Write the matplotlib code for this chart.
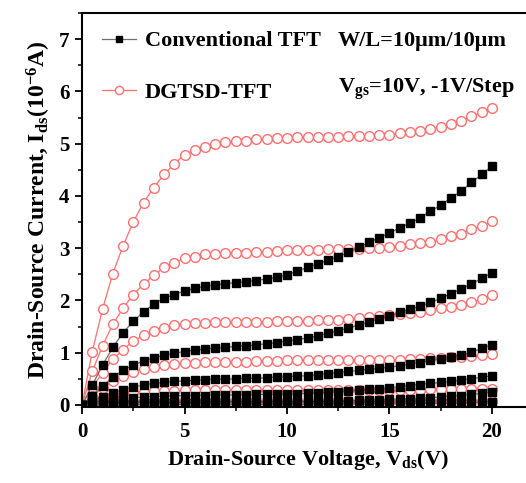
import matplotlib
matplotlib.use("Agg")
import matplotlib.pyplot as plt
from matplotlib.ticker import MultipleLocator

plt.rcParams['font.family'] = ['Liberation Serif', 'DejaVu Serif']
plt.rcParams['font.weight'] = 'bold'
plt.rcParams['mathtext.fontset'] = 'custom'
plt.rcParams['mathtext.rm'] = 'Liberation Serif:bold'
plt.rcParams['mathtext.it'] = 'Liberation Serif:bold:italic'
plt.rcParams['mathtext.bf'] = 'Liberation Serif:bold'

vds = [0, 0.5, 1, 1.5, 2, 2.5, 3, 3.5, 4, 4.5, 5, 5.5, 6, 6.5, 7, 7.5, 8, 8.5, 9, 9.5,
       10, 10.5, 11, 11.5, 12, 12.5, 13, 13.5, 14, 14.5, 15, 15.5, 16, 16.5, 17, 17.5,
       18, 18.5, 19, 19.5, 20]

# Conventional TFT, Vgs = 10 V ... 5 V
conv_10 = [0, 0.38, 0.76, 1.10, 1.38, 1.60, 1.78, 1.93, 2.04, 2.11, 2.18, 2.23, 2.27, 2.30, 2.32,
           2.34, 2.36, 2.38, 2.41, 2.44, 2.49, 2.56, 2.63, 2.70, 2.77, 2.84, 2.92, 3.02, 3.11,
           3.20, 3.29, 3.39, 3.48, 3.58, 3.71, 3.82, 3.96, 4.09, 4.26, 4.41, 4.57]
conv_9 = [0, 0.18, 0.36, 0.53, 0.66, 0.76, 0.84, 0.90, 0.95, 0.99, 1.02, 1.05, 1.07, 1.09, 1.10,
          1.12, 1.13, 1.15, 1.17, 1.19, 1.22, 1.25, 1.28, 1.32, 1.37, 1.42, 1.47, 1.53, 1.59,
          1.65, 1.71, 1.77, 1.83, 1.89, 1.96, 2.04, 2.13, 2.22, 2.32, 2.42, 2.53]
conv_8 = [0, 0.08, 0.16, 0.23, 0.29, 0.34, 0.38, 0.41, 0.43, 0.45, 0.46, 0.47, 0.48, 0.49, 0.49,
          0.50, 0.51, 0.51, 0.52, 0.53, 0.54, 0.55, 0.56, 0.58, 0.60, 0.62, 0.64, 0.66, 0.68,
          0.70, 0.72, 0.75, 0.78, 0.81, 0.85, 0.88, 0.92, 0.96, 1.01, 1.08, 1.15]
conv_7 = [0, 0.04, 0.07, 0.10, 0.12, 0.14, 0.15, 0.16, 0.17, 0.17, 0.18, 0.18, 0.18, 0.19, 0.19,
          0.19, 0.19, 0.20, 0.20, 0.20, 0.20, 0.21, 0.22, 0.23, 0.24, 0.25, 0.27, 0.28, 0.30,
          0.31, 0.33, 0.35, 0.37, 0.39, 0.41, 0.43, 0.45, 0.47, 0.50, 0.53, 0.56]
conv_6 = [0, 0.01, 0.02, 0.03, 0.04, 0.04, 0.05, 0.05, 0.05, 0.05, 0.05, 0.05, 0.05, 0.06, 0.06,
          0.06, 0.06, 0.06, 0.06, 0.06, 0.06, 0.06, 0.07, 0.07, 0.07, 0.08, 0.08, 0.09, 0.09,
          0.10, 0.11, 0.11, 0.12, 0.13, 0.14, 0.15, 0.17, 0.18, 0.20, 0.22, 0.24]
conv_5 = [0, 0.00, 0.01, 0.01, 0.01, 0.01, 0.01, 0.01, 0.01, 0.01, 0.01, 0.01, 0.01, 0.01, 0.01,
          0.01, 0.01, 0.01, 0.01, 0.01, 0.01, 0.01, 0.01, 0.01, 0.01, 0.02, 0.02, 0.02, 0.02,
          0.02, 0.02, 0.02, 0.03, 0.03, 0.03, 0.03, 0.04, 0.04, 0.05, 0.05, 0.06]

# DGTSD-TFT, Vgs = 10 V ... 5 V
dg_10 = [0, 1.02, 1.83, 2.51, 3.04, 3.50, 3.87, 4.16, 4.41, 4.61, 4.79, 4.87, 4.94, 4.99, 5.03,
         5.05, 5.06, 5.08, 5.09, 5.10, 5.11, 5.12, 5.12, 5.13, 5.13, 5.13, 5.14, 5.14, 5.15,
         5.16, 5.17, 5.20, 5.22, 5.25, 5.28, 5.32, 5.37, 5.44, 5.52, 5.60, 5.68]
dg_9 = [0, 0.64, 1.13, 1.54, 1.85, 2.11, 2.31, 2.48, 2.63, 2.72, 2.81, 2.84, 2.88, 2.89, 2.90,
        2.91, 2.91, 2.92, 2.93, 2.94, 2.96, 2.96, 2.97, 2.97, 2.98, 2.98, 2.99, 2.99, 3.00,
        3.01, 3.03, 3.05, 3.07, 3.09, 3.11, 3.17, 3.23, 3.28, 3.36, 3.42, 3.51]
dg_8 = [0, 0.33, 0.62, 0.87, 1.06, 1.22, 1.33, 1.42, 1.48, 1.52, 1.55, 1.56, 1.57, 1.58, 1.58,
        1.58, 1.59, 1.59, 1.59, 1.60, 1.60, 1.61, 1.61, 1.62, 1.62, 1.63, 1.64, 1.66, 1.68,
        1.70, 1.72, 1.74, 1.76, 1.78, 1.81, 1.85, 1.88, 1.92, 1.96, 2.02, 2.11]
dg_7 = [0, 0.17, 0.32, 0.45, 0.55, 0.63, 0.69, 0.73, 0.76, 0.78, 0.80, 0.81, 0.82, 0.82, 0.83,
        0.83, 0.83, 0.84, 0.84, 0.84, 0.85, 0.85, 0.85, 0.85, 0.85, 0.85, 0.85, 0.86, 0.86,
        0.86, 0.86, 0.86, 0.87, 0.88, 0.89, 0.90, 0.91, 0.92, 0.93, 0.95, 0.97]
dg_6 = [0, 0.07, 0.13, 0.18, 0.21, 0.24, 0.25, 0.26, 0.27, 0.27, 0.28, 0.28, 0.28, 0.28, 0.28,
        0.28, 0.28, 0.28, 0.29, 0.29, 0.29, 0.29, 0.29, 0.29, 0.29, 0.29, 0.29, 0.29, 0.29,
        0.29, 0.29, 0.29, 0.29, 0.29, 0.30, 0.30, 0.30, 0.30, 0.30, 0.31, 0.31]
dg_5 = [0, 0.02, 0.04, 0.05, 0.06, 0.06, 0.07, 0.07, 0.07, 0.07, 0.07, 0.07, 0.07, 0.07, 0.07,
        0.07, 0.07, 0.07, 0.07, 0.07, 0.07, 0.07, 0.07, 0.07, 0.07, 0.07, 0.07, 0.07, 0.07,
        0.07, 0.07, 0.07, 0.07, 0.07, 0.07, 0.07, 0.07, 0.08, 0.08, 0.08, 0.08]

conv_series = [conv_10, conv_9, conv_8, conv_7, conv_6, conv_5]
dg_series = [dg_10, dg_9, dg_8, dg_7, dg_6, dg_5]

legend_labels = ['Conventional TFT', 'DGTSD-TFT']
xticks = [0, 5, 10, 15, 20]
yticks = [0, 1, 2, 3, 4, 5, 6, 7]

RED = '#ff6f6f'
LINEGRAY = '#707070'
FS = 16
TFS = 15

fig = plt.figure(figsize=(5.26, 4.83), dpi=100)
ax = fig.add_axes([82 / 526, (483 - 407) / 483, 451 / 526, 394 / 483])

for i, ys in enumerate(conv_series):
    ax.plot(vds, ys, color=LINEGRAY, lw=0.9, marker='s', ms=5.8, mfc='black', mec='black',
            label=legend_labels[0] if i == 0 else None, zorder=3)
for i, ys in enumerate(dg_series):
    ax.plot(vds, ys, color=RED, lw=0.9, marker='o', ms=7.0, mfc='white', mec=RED, mew=1.0,
            label=legend_labels[1] if i == 0 else None, zorder=2)

ax.set_xlim(0, 22)
ax.set_ylim(-0.04, 7.5)
ax.set_xticks(xticks)
ax.set_yticks(yticks)
ax.xaxis.set_minor_locator(MultipleLocator(2.5))
ax.yaxis.set_minor_locator(MultipleLocator(0.5))
ax.tick_params(which='major', direction='out', length=5, width=1.3, labelsize=TFS)
ax.tick_params(axis='x', which='major', pad=6)
ax.tick_params(axis='y', which='major', pad=4)
ax.tick_params(which='minor', direction='out', length=3, width=1.1)
ax.tick_params(top=False, right=False)
for lbl in ax.get_xticklabels() + ax.get_yticklabels():
    lbl.set_fontweight('bold')
for s in ['left', 'bottom', 'top']:
    ax.spines[s].set_linewidth(1.5)
ax.spines['right'].set_visible(False)

ax.set_xlabel('Drain-Source Voltage, V$_{\\rm ds}$(V)', fontsize=FS, fontweight='bold', labelpad=4)
ax.set_ylabel('Drain-Source Current, I$_{\\rm ds}$(10$^{-6}$A)', fontsize=17, fontweight='bold',
              labelpad=4)

leg = ax.legend(loc='upper left', bbox_to_anchor=(20 / 451, 0.955), frameon=False,
                fontsize=FS, handlelength=1.55, handletextpad=0.38, labelspacing=1.38,
                borderpad=0, borderaxespad=0, markerscale=0.85)
for t in leg.get_texts():
    t.set_fontweight('bold')

ax.text((338 - 82) / 451, (407 - 41) / 394, 'W/L=10\u03bcm/10\u03bcm', transform=ax.transAxes,
        fontsize=FS, fontweight='bold', va='center', ha='left')
ax.text((338 - 82) / 451, (407 - 89) / 394, 'V$_{\\rm gs}$=10V, -1V/Step', transform=ax.transAxes,
        fontsize=FS, fontweight='bold', va='center', ha='left')

fig.savefig('out.png', dpi=100)
